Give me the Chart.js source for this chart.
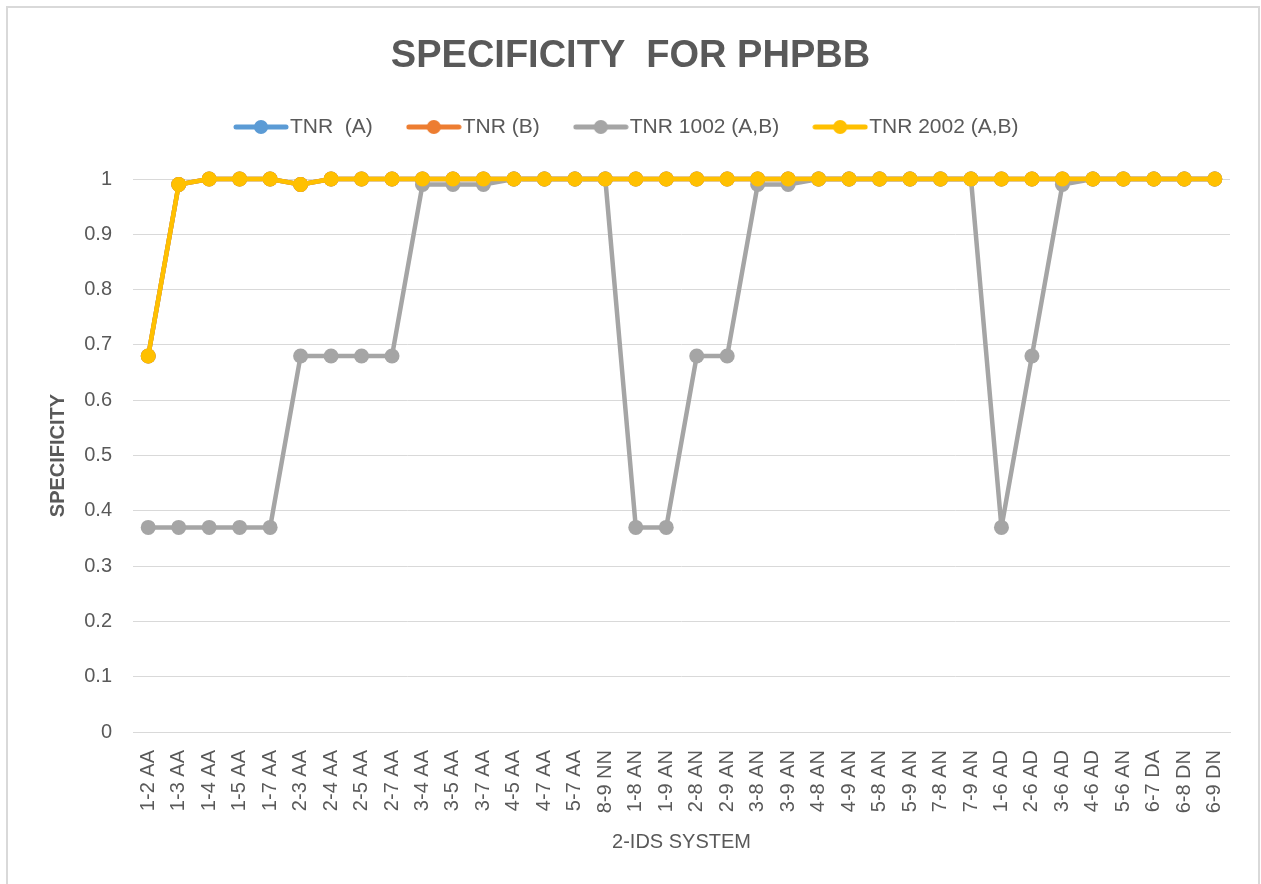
<!DOCTYPE html>
<html>
<head>
<meta charset="utf-8">
<script src="https://cdn.jsdelivr.net/npm/chart.js@4"></script>
<style>
  html, body { margin: 0; padding: 0; background: #fff; }
  #wrap { position: absolute; left: 0; top: 0; width: 1261px; height: 884px; }
  #frame { position: absolute; left: 6px; top: 6px; width: 1254px; height: 900px; box-sizing: border-box;
           border: 2px solid #d9d9d9; pointer-events: none; }
</style>
</head>
<body>
<div id="wrap"><canvas id="c" width="1261" height="884"></canvas></div>
<div id="frame"></div>
<script>
const categories = ["1-2 AA","1-3 AA","1-4 AA","1-5 AA","1-7 AA","2-3 AA","2-4 AA","2-5 AA","2-7 AA",
  "3-4 AA","3-5 AA","3-7 AA","4-5 AA","4-7 AA","5-7 AA","8-9 NN","1-8 AN","1-9 AN","2-8 AN","2-9 AN",
  "3-8 AN","3-9 AN","4-8 AN","4-9 AN","5-8 AN","5-9 AN","7-8 AN","7-9 AN","1-6 AD","2-6 AD","3-6 AD",
  "4-6 AD","5-6 AN","6-7 DA","6-8 DN","6-9 DN"];

const tnrA =    [0.68,0.99,1,1,1,0.99,1,1,1, 1,1,1,1,1,1,1,1,1,1,1, 1,1,1,1,1,1,1,1,1,1,1, 1,1,1,1,1];
const tnrB =    [0.68,0.99,1,1,1,0.99,1,1,1, 1,1,1,1,1,1,1,1,1,1,1, 1,1,1,1,1,1,1,1,1,1,1, 1,1,1,1,1];
const tnr1002 = [0.37,0.37,0.37,0.37,0.37,0.68,0.68,0.68,0.68, 0.99,0.99,0.99,1,1,1,1,0.37,0.37,0.68,0.68,
  0.99,0.99,1,1,1,1,1,1,0.37,0.68,0.99, 1,1,1,1,1];
const tnr2002 = [0.68,0.99,1,1,1,0.99,1,1,1, 1,1,1,1,1,1,1,1,1,1,1, 1,1,1,1,1,1,1,1,1,1,1, 1,1,1,1,1];

const seriesNames = ["TNR  (A)", "TNR (B)", "TNR 1002 (A,B)", "TNR 2002 (A,B)"];
const seriesColors = ["#5B9BD5", "#ED7D31", "#A5A5A5", "#FFC000"];
const yTickLabels = ["0","0.1","0.2","0.3","0.4","0.5","0.6","0.7","0.8","0.9","1"];

const TEXT = "#595959";
const FONT = "'Liberation Sans', Arial, sans-serif";

function legendIcon(color) {
  const cv = document.createElement('canvas');
  cv.width = 56; cv.height = 16;
  const g = cv.getContext('2d');
  g.strokeStyle = color; g.lineWidth = 5; g.lineCap = 'round';
  g.beginPath(); g.moveTo(3, 8); g.lineTo(53, 8); g.stroke();
  g.fillStyle = color;
  g.beginPath(); g.arc(28, 8, 7, 0, Math.PI * 2); g.fill();
  return cv;
}
const icons = seriesColors.map(legendIcon);

const allSeries = [tnrA, tnrB, tnr1002, tnr2002];
const datasets = allSeries.map((d, i) => ({
  label: seriesNames[i],
  data: d,
  order: allSeries.length - i,
  borderColor: seriesColors[i],
  backgroundColor: seriesColors[i],
  borderWidth: 4.5,
  borderJoinStyle: 'round',
  borderCapStyle: 'round',
  pointRadius: 7.5,
  pointHoverRadius: 7.5,
  pointBorderWidth: 0,
  tension: 0,
  clip: false
}));

new Chart(document.getElementById('c'), {
  type: 'line',
  data: { labels: categories, datasets },
  options: {
    responsive: false,
    animation: false,
    layout: { padding: { left: 31, right: 31, top: 0, bottom: 0 } },
    plugins: {
      title: {
        display: true,
        text: 'SPECIFICITY  FOR PHPBB',
        color: TEXT,
        font: { family: FONT, size: 38, weight: 'bold', lineHeight: 1.0 },
        padding: { top: 38, bottom: -2 }
      },
      subtitle: {
        display: true,
        text: '',
        weight: 500,
        font: { size: 1, lineHeight: 1 },
        padding: { top: 30.5, bottom: 0 }
      },
      legend: {
        display: true,
        position: 'top',
        labels: {
          color: TEXT,
          font: { family: FONT, size: 21 },
          usePointStyle: true,
          pointStyleWidth: 37,
          padding: 42.5,
          generateLabels: (chart) => {
            const items = Chart.defaults.plugins.legend.labels.generateLabels(chart);
            items.forEach((it) => { it.pointStyle = icons[it.datasetIndex]; it.hidden = false; });
            items.sort((a, b) => a.datasetIndex - b.datasetIndex);
            return items;
          }
        }
      },
      tooltip: { enabled: false }
    },
    scales: {
      x: {
        offset: true,
        grid: { display: false, drawTicks: false, offset: true },
        border: { display: true, color: '#d9d9d9', width: 1 },
        ticks: {
          autoSkip: false, minRotation: 90, maxRotation: 90,
          color: TEXT, font: { family: FONT, size: 20 }, padding: 18
        },
        title: {
          display: true, text: '2-IDS SYSTEM', color: TEXT,
          font: { family: FONT, size: 20 }, padding: { top: 0, bottom: 30 }
        },
        afterFit: (s) => { s.height = 152; }
      },
      y: {
        min: 0, max: 1,
        grid: { color: '#d9d9d9', lineWidth: 1, drawTicks: false },
        border: { display: false },
        ticks: {
          stepSize: 0.1, color: TEXT, font: { family: FONT, size: 20 }, padding: 21,
          callback: (v) => yTickLabels[Math.round(v * 10)]
        },
        title: {
          display: true, text: 'SPECIFICITY', color: TEXT,
          font: { family: FONT, size: 20, weight: 'bold' }, padding: { top: 15, bottom: 0 }
        },
        afterFit: (s) => { s.width = 102; }
      }
    }
  }
});
</script>
</body>
</html>
